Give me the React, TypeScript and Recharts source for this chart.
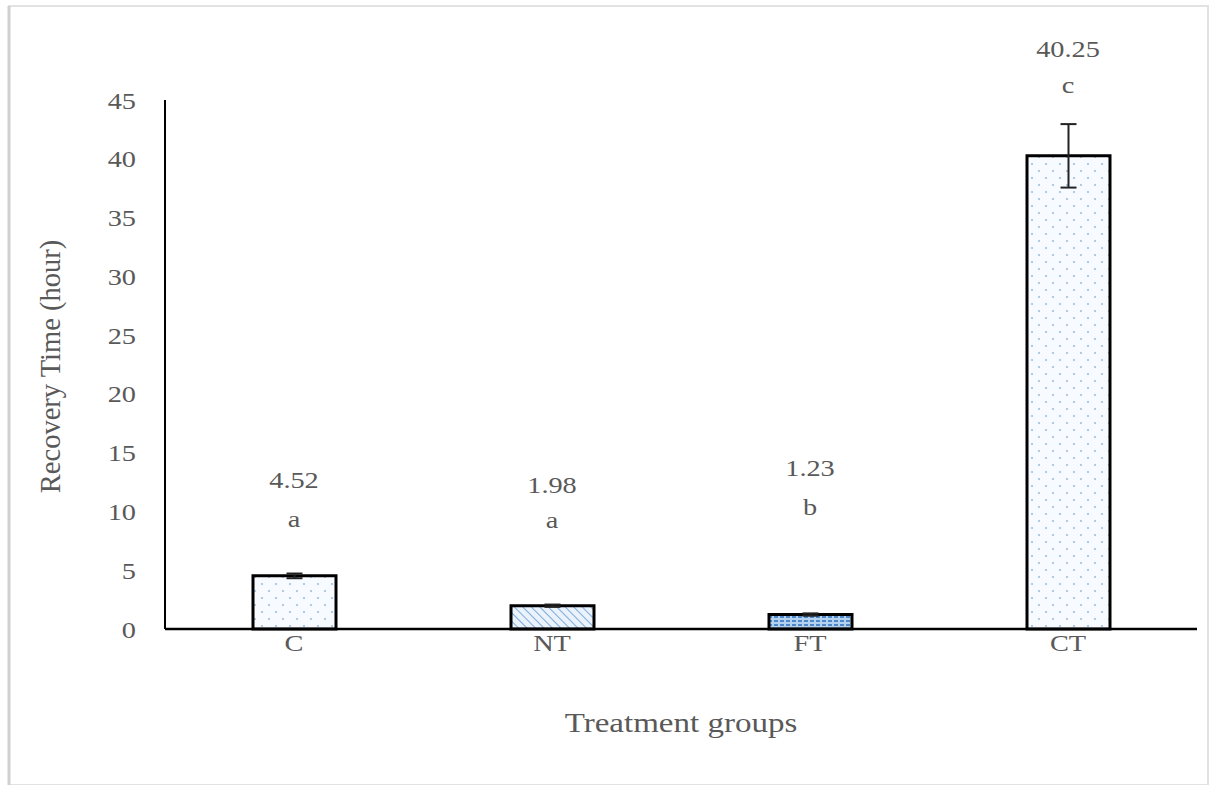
import React from 'react';
import { BarChart, Bar, XAxis, YAxis, Cell, ErrorBar, ReferenceDot, Label } from 'recharts';

const categories = ['C', 'NT', 'FT', 'CT'];
const means = [4.52, 1.98, 1.23, 40.25];
const errors = [0.2, 0.1, 0.1, 2.7];
const letters = ['a', 'a', 'b', 'c'];
const valueLabelY = [12.7, 12.3, 13.7, 49.4];
const letterLabelY = [9.4, 9.3, 10.4, 46.3];
const yTicks = [0, 5, 10, 15, 20, 25, 30, 35, 40, 45];
const fills = ['url(#dots)', 'url(#hatch)', 'url(#dense)', 'url(#dots)'];

const data = categories.map((c, i) => ({ name: c, value: means[i], err: errors[i] }));

const FONT = '"Liberation Serif", "Times New Roman", serif';
const GREY = '#595959';
const SX = 1.18;

const StretchText = ({ x, y, text, size, anchor = 'middle', dy = '0.355em' }: any) => (
  <text
    transform={`translate(${x},${y}) scale(${SX},1)`}
    textAnchor={anchor}
    dy={dy}
    fill={GREY}
    fontSize={size}
    fontFamily={FONT}
  >
    {text}
  </text>
);

const YTick = (props: any) => {
  const { x, y, payload } = props;
  return <StretchText x={x} y={y} text={payload.value} size={24} anchor="end" />;
};

const XTick = (props: any) => {
  const { x, y, payload } = props;
  return <StretchText x={x} y={y} text={payload.value} size={24} anchor="middle" dy="0.71em" />;
};

const makeLabel = (text: string) => (props: any) => {
  const vb = props.viewBox || {};
  const cx = (vb.x || 0) + (vb.width || 0) / 2;
  const cy = (vb.y || 0) + (vb.height || 0) / 2;
  return <StretchText x={cx} y={cy} text={text} size={24} />;
};

const XTitle = (props: any) => {
  const vb = props.viewBox || {};
  const cx = vb.x + vb.width / 2;
  const cy = vb.y + vb.height + 33;
  return <StretchText x={cx} y={cy} text="Treatment groups" size={28} />;
};

export default function App() {
  return (
    <div style={{ position: 'absolute', left: 0, top: 0, width: 1223, height: 785, background: '#fff', fontFamily: FONT }}>
      <svg width={0} height={0} style={{ position: 'absolute' }}>
        <defs>
          <pattern id="dots" width="14" height="14" patternUnits="userSpaceOnUse">
            <rect width="14" height="14" fill="#f7fbff" />
            <circle cx="3" cy="3" r="1.1" fill="#9dbfe0" />
            <circle cx="10" cy="10" r="1.1" fill="#9dbfe0" />
          </pattern>
          <pattern id="hatch" width="6" height="6" patternUnits="userSpaceOnUse" patternTransform="rotate(-45)">
            <rect width="6" height="6" fill="#eaf2fb" />
            <line x1="0" y1="0" x2="0" y2="6" stroke="#7fa9d6" strokeWidth="2" />
          </pattern>
          <pattern id="dense" width="6" height="4" patternUnits="userSpaceOnUse">
            <rect width="6" height="4" fill="#b3d2f0" />
            <rect x="0" y="0" width="4" height="2" fill="#4f86c6" />
          </pattern>
        </defs>
      </svg>
      <svg width={1223} height={785} style={{ position: 'absolute', left: 0, top: 0 }}>
        <rect x={9} y={6} width={1199} height={779} fill="none" stroke="#e2e2e2" strokeWidth={2} />
        <line x1={9} y1={6} x2={9} y2={785} stroke="#d0d0d0" strokeWidth={3} />
      </svg>
      <div style={{ position: 'absolute', left: 0, top: 0 }}>
        <BarChart width={1223} height={785} data={data} margin={{ top: 100, right: 26, bottom: 96, left: 25 }} barCategoryGap="0%">
          <XAxis
            dataKey="name"
            height={60}
            tickLine={false}
            tickSize={0}
            tickMargin={5}
            axisLine={{ stroke: '#000', strokeWidth: 2.5 }}
            tick={<XTick />}
          >
            <Label content={<XTitle />} position="bottom" />
          </XAxis>
          <YAxis
            width={140}
            domain={[0, 45]}
            ticks={yTicks}
            tickLine={false}
            tickSize={0}
            tickMargin={29}
            axisLine={{ stroke: '#000', strokeWidth: 2 }}
            tick={<YTick />}
          >
            <Label value="Recovery Time (hour)" angle={-90} position="center" dx={-45} dy={2} style={{ fill: GREY, fontSize: 28.5, fontFamily: FONT, textAnchor: 'middle' }} />
          </YAxis>
          <Bar dataKey="value" barSize={83} stroke="#000" strokeWidth={3} isAnimationActive={false}>
            {data.map((d, i) => (
              <Cell key={d.name} fill={fills[i]} />
            ))}
            <ErrorBar dataKey="err" width={8} stroke="#222" strokeWidth={2} />
          </Bar>
          {categories.map((c, i) => (
            <ReferenceDot key={'v' + c} x={c} y={valueLabelY[i]} r={0} ifOverflow="visible" stroke="none" fill="none"
              label={makeLabel(means[i].toFixed(2))} />
          ))}
          {categories.map((c, i) => (
            <ReferenceDot key={'l' + c} x={c} y={letterLabelY[i]} r={0} ifOverflow="visible" stroke="none" fill="none"
              label={makeLabel(letters[i])} />
          ))}
        </BarChart>
      </div>
    </div>
  );
}
